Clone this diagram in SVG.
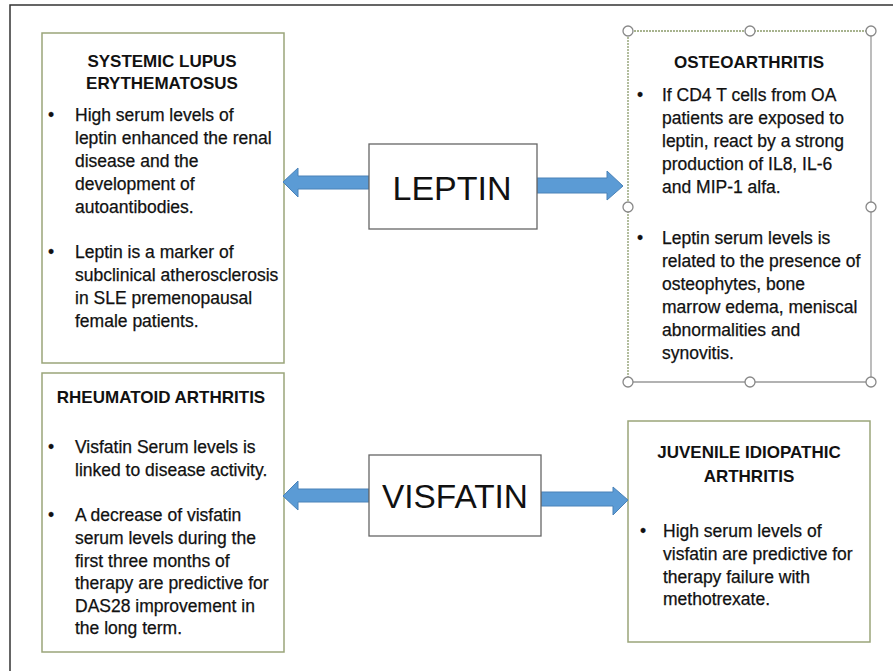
<svg xmlns="http://www.w3.org/2000/svg" width="893" height="671" viewBox="0 0 893 671">
<defs>
<style>
.box{fill:#fff;stroke:#9aa57a;stroke-width:1.5}
.cbox{fill:#fff;stroke:#666;stroke-width:1.3}
.h{font-family:"Liberation Sans",Arial,sans-serif;font-weight:bold;font-size:17px;fill:#111;text-anchor:middle}
.t{font-family:"Liberation Sans",Arial,sans-serif;font-size:17.5px;fill:#111;stroke:#111;stroke-width:0.25}
.big{font-family:"Liberation Sans",Arial,sans-serif;font-size:34px;fill:#111;text-anchor:middle}
.arr{fill:#5b9bd5;stroke:#4a82b8;stroke-width:1}
.hd{fill:#fff;stroke:#888;stroke-width:1.3}
</style>
</defs>
<rect x="0" y="0" width="893" height="671" fill="#fff"/>
<rect x="10" y="5" width="900" height="700" fill="none" stroke="#333" stroke-width="1.5"/>

<g id="sle">
<rect class="box" x="42" y="33" width="242" height="330"/>
<text class="h" x="162" y="67">SYSTEMIC LUPUS</text>
<text class="h" x="162" y="89">ERYTHEMATOSUS</text>
<text class="t" x="48" y="121">•</text>
<text class="t" x="75" y="121">High serum levels of</text>
<text class="t" x="75" y="144">leptin enhanced the renal</text>
<text class="t" x="75" y="167">disease and the</text>
<text class="t" x="75" y="190">development of</text>
<text class="t" x="75" y="213">autoantibodies.</text>
<text class="t" x="48" y="258">•</text>
<text class="t" x="75" y="258">Leptin is a marker of</text>
<text class="t" x="75" y="281">subclinical atherosclerosis</text>
<text class="t" x="75" y="304">in SLE premenopausal</text>
<text class="t" x="75" y="327">female patients.</text>
</g>

<g id="oa">
<rect x="628" y="31" width="243" height="351" fill="#fff" stroke="none"/>
<line x1="871" y1="31" x2="871" y2="382" stroke="#999" stroke-width="1.3"/>
<line x1="628" y1="382" x2="871" y2="382" stroke="#999" stroke-width="1.3"/>
<line x1="628" y1="31" x2="871" y2="31" stroke="#8a9a6a" stroke-width="1.3" stroke-dasharray="2 1"/>
<line x1="628" y1="31" x2="628" y2="382" stroke="#8a9a6a" stroke-width="1.3" stroke-dasharray="2 1"/>
<text class="h" x="749" y="68">OSTEOARTHRITIS</text>
<text class="t" x="637" y="101">•</text>
<text class="t" x="662" y="101">If CD4 T cells from OA</text>
<text class="t" x="662" y="124">patients are exposed to</text>
<text class="t" x="662" y="147">leptin, react by a strong</text>
<text class="t" x="662" y="170">production of IL8, IL-6</text>
<text class="t" x="662" y="193">and MIP-1 alfa.</text>
<text class="t" x="637" y="244">•</text>
<text class="t" x="662" y="244">Leptin serum levels is</text>
<text class="t" x="662" y="267">related to the presence of</text>
<text class="t" x="662" y="290">osteophytes, bone</text>
<text class="t" x="662" y="313">marrow edema, meniscal</text>
<text class="t" x="662" y="336">abnormalities and</text>
<text class="t" x="662" y="359">synovitis.</text>
<circle class="hd" cx="628" cy="31" r="5"/>
<circle class="hd" cx="750" cy="31" r="5"/>
<circle class="hd" cx="871" cy="31" r="5"/>
<circle class="hd" cx="628" cy="207" r="5"/>
<circle class="hd" cx="871" cy="207" r="5"/>
<circle class="hd" cx="628" cy="382" r="5"/>
<circle class="hd" cx="750" cy="382" r="5"/>
<circle class="hd" cx="871" cy="382" r="5"/>
</g>

<g id="ra">
<rect class="box" x="42" y="373" width="242" height="279"/>
<text class="h" x="161" y="403">RHEUMATOID ARTHRITIS</text>
<text class="t" x="48" y="453">•</text>
<text class="t" x="75" y="453">Visfatin Serum levels is</text>
<text class="t" x="75" y="476">linked to disease activity.</text>
<text class="t" x="48" y="521">•</text>
<text class="t" x="75" y="521">A decrease of visfatin</text>
<text class="t" x="75" y="544">serum levels during the</text>
<text class="t" x="75" y="567">first three months of</text>
<text class="t" x="75" y="589">therapy are predictive for</text>
<text class="t" x="75" y="612">DAS28 improvement in</text>
<text class="t" x="75" y="634">the long term.</text>
</g>

<g id="jia">
<rect class="box" x="628" y="421" width="242" height="221"/>
<text class="h" x="749" y="458">JUVENILE IDIOPATHIC</text>
<text class="h" x="749" y="482">ARTHRITIS</text>
<text class="t" x="640" y="537">•</text>
<text class="t" x="663" y="537">High serum levels of</text>
<text class="t" x="663" y="560">visfatin are predictive for</text>
<text class="t" x="663" y="583">therapy failure with</text>
<text class="t" x="663" y="605">methotrexate.</text>
</g>

<g id="connectors">
<path class="arr" d="M369,176 L298,176 L298,168 L283,182 L298,197 L298,189 L369,189 Z"/>
<path class="arr" d="M537,178 L607,178 L607,171 L623,186 L607,200 L607,193 L537,193 Z"/>
<path class="arr" d="M369,489 L298,489 L298,481 L283,496 L298,510 L298,502 L369,502 Z"/>
<path class="arr" d="M541,492 L613,492 L613,487 L628,500 L613,515 L613,506 L541,506 Z"/>
</g>

<g id="leptin">
<rect class="cbox" x="369" y="144" width="168" height="85"/>
<text class="big" x="452" y="200">LEPTIN</text>
</g>

<g id="visfatin">
<rect class="cbox" x="369" y="455" width="172" height="81"/>
<text class="big" x="455" y="508" textLength="146" lengthAdjust="spacingAndGlyphs">VISFATIN</text>
</g>
</svg>
